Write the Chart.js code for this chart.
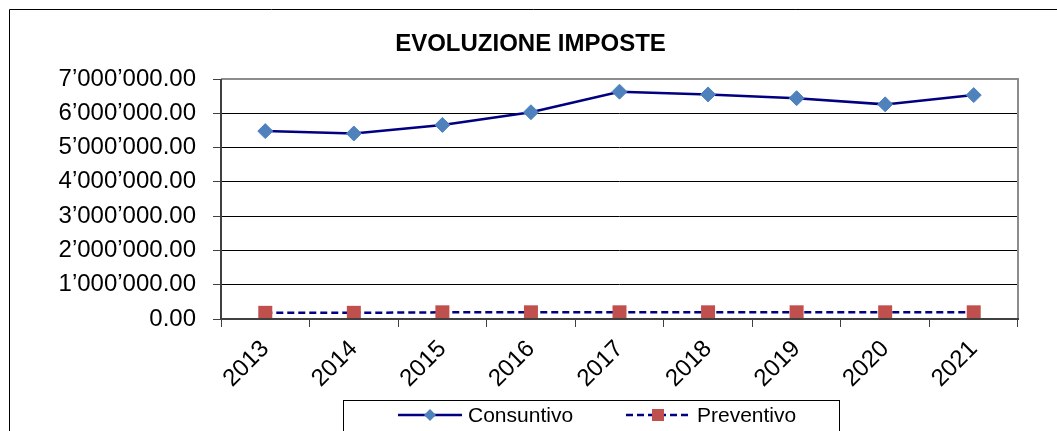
<!DOCTYPE html>
<html>
<head>
<meta charset="utf-8">
<script src="https://cdn.jsdelivr.net/npm/chart.js@4/dist/chart.umd.min.js"></script>
<style>
	html, body { margin: 0; padding: 0; background: #fff; }
	#wrap { position: relative; width: 1057px; height: 431px; }
</style>
</head>
<body>
<div id="wrap"><canvas id="chart" width="1057" height="431"></canvas></div>
<script>
const chartTitle = "EVOLUZIONE IMPOSTE";
const years = ["2013", "2014", "2015", "2016", "2017", "2018", "2019", "2020", "2021"];
const consuntivo = [5480000, 5410000, 5660000, 6030000, 6630000, 6550000, 6440000, 6260000, 6530000];
const preventivo = [180000, 180000, 195000, 195000, 195000, 195000, 195000, 195000, 195000];
const seriesNames = ["Consuntivo", "Preventivo"];
const yTicks = [0, 1000000, 2000000, 3000000, 4000000, 5000000, 6000000, 7000000];

const FONT = "'Liberation Sans', Arial, sans-serif";

// format like 7'000'000.00
function fmt(v) {
	const s = Math.round(v).toString().replace(/\B(?=(\d{3})+(?!\d))/g, "\u2019");
	return s + ".00";
}

// frame, title, plot border and legend drawn on canvas
const decorations = {
	id: "decorations",
	beforeDraw(chart) {
		const ctx = chart.ctx;
		ctx.save();
		ctx.strokeStyle = "#000";
		ctx.lineWidth = 1;
		ctx.beginPath();
		ctx.moveTo(9.5, chart.height + 5);
		ctx.lineTo(9.5, 9.5);
		ctx.lineTo(chart.width + 5, 9.5);
		ctx.stroke();
		ctx.restore();
	},
	afterDraw(chart) {
		const ctx = chart.ctx;
		const a = chart.chartArea;
		ctx.save();

		// plot border: gray top/right, dark left/bottom
		ctx.lineWidth = 2;
		ctx.strokeStyle = "#8c8c8c";
		ctx.beginPath();
		ctx.moveTo(a.left, a.top);
		ctx.lineTo(a.right, a.top);
		ctx.lineTo(a.right, a.bottom);
		ctx.stroke();
		ctx.strokeStyle = "#404040";
		ctx.beginPath();
		ctx.moveTo(a.left, a.top);
		ctx.lineTo(a.left, a.bottom);
		ctx.lineTo(a.right + 1, a.bottom);
		ctx.stroke();

		// title
		ctx.fillStyle = "#000";
		ctx.font = "bold 24px " + FONT;
		ctx.textAlign = "center";
		ctx.textBaseline = "middle";
		ctx.fillText(chartTitle, chart.width / 2 + 2, 44);

		// legend box
		ctx.lineWidth = 1;
		ctx.strokeStyle = "#000";
		ctx.strokeRect(343.5, 400.5, 496, 40);

		const ly = 415;
		const ds = chart.data.datasets;
		const items = [
			{ x0: 398, x1: 462, tx: 468 },
			{ x0: 626, x1: 690, tx: 697 }
		];
		items.forEach((it, i) => {
			const d = ds[i];
			ctx.strokeStyle = d.borderColor;
			ctx.lineWidth = 2.5;
			ctx.setLineDash(d.borderDash || []);
			ctx.beginPath();
			ctx.moveTo(it.x0, ly);
			ctx.lineTo(it.x1, ly);
			ctx.stroke();
			ctx.setLineDash([]);
			ctx.fillStyle = d.pointBackgroundColor;
			const cx = (it.x0 + it.x1) / 2;
			if (d.pointStyle === "rectRot") {
				ctx.beginPath();
				ctx.moveTo(cx, ly - 6);
				ctx.lineTo(cx + 6, ly);
				ctx.lineTo(cx, ly + 6);
				ctx.lineTo(cx - 6, ly);
				ctx.closePath();
				ctx.fill();
			} else {
				ctx.fillRect(cx - 6, ly - 6, 12, 12);
			}
			ctx.fillStyle = "#000";
			ctx.font = "21px " + FONT;
			ctx.textAlign = "left";
			ctx.textBaseline = "middle";
			ctx.fillText(d.label, it.tx, ly + 1);
		});
		ctx.restore();
	}
};

new Chart(document.getElementById("chart"), {
	type: "line",
	data: {
		labels: years,
		datasets: [
			{
				label: seriesNames[0],
				data: consuntivo,
				borderColor: "#000080",
				borderWidth: 2.5,
				pointStyle: "rectRot",
				pointRadius: 7.5,
				pointBackgroundColor: "#4F81BD",
				pointBorderColor: "#4F81BD",
				pointBorderWidth: 1,
				tension: 0
			},
			{
				label: seriesNames[1],
				data: preventivo,
				borderColor: "#000080",
				borderWidth: 2.5,
				borderDash: [7, 4],
				pointStyle: "rect",
				pointRadius: 9.9,
				pointBackgroundColor: "#C0504D",
				pointBorderColor: "#C0504D",
				pointBorderWidth: 0,
				tension: 0
			}
		]
	},
	options: {
		responsive: false,
		animation: false,
		layout: { padding: { top: 79, right: 39, left: 10, bottom: 0 } },
		plugins: {
			legend: { display: false },
			title: { display: false },
			tooltip: { enabled: false }
		},
		scales: {
			x: {
				offset: true,
				grid: {
					offset: true,
					drawOnChartArea: false,
					drawTicks: true,
					tickLength: 8,
					color: "#404040"
				},
				border: { display: false },
				ticks: {
					color: "#000",
					font: { family: FONT, size: 24 },
					minRotation: 45,
					maxRotation: 45,
					padding: 8
				},
				afterFit(scale) { scale.height = 112; }
			},
			y: {
				min: 0,
				max: 7000000,
				afterBuildTicks(scale) { scale.ticks = yTicks.map(v => ({ value: v })); },
				grid: {
					color: "#000",
					lineWidth: 1,
					tickLength: 8,
					tickColor: "#404040"
				},
				border: { display: false },
				ticks: {
					color: "#000",
					font: { family: FONT, size: 24 },
					padding: 17,
					callback: v => fmt(v)
				},
				afterFit(scale) { scale.width = 211; }
			}
		}
	},
	plugins: [decorations]
});
</script>
</body>
</html>
